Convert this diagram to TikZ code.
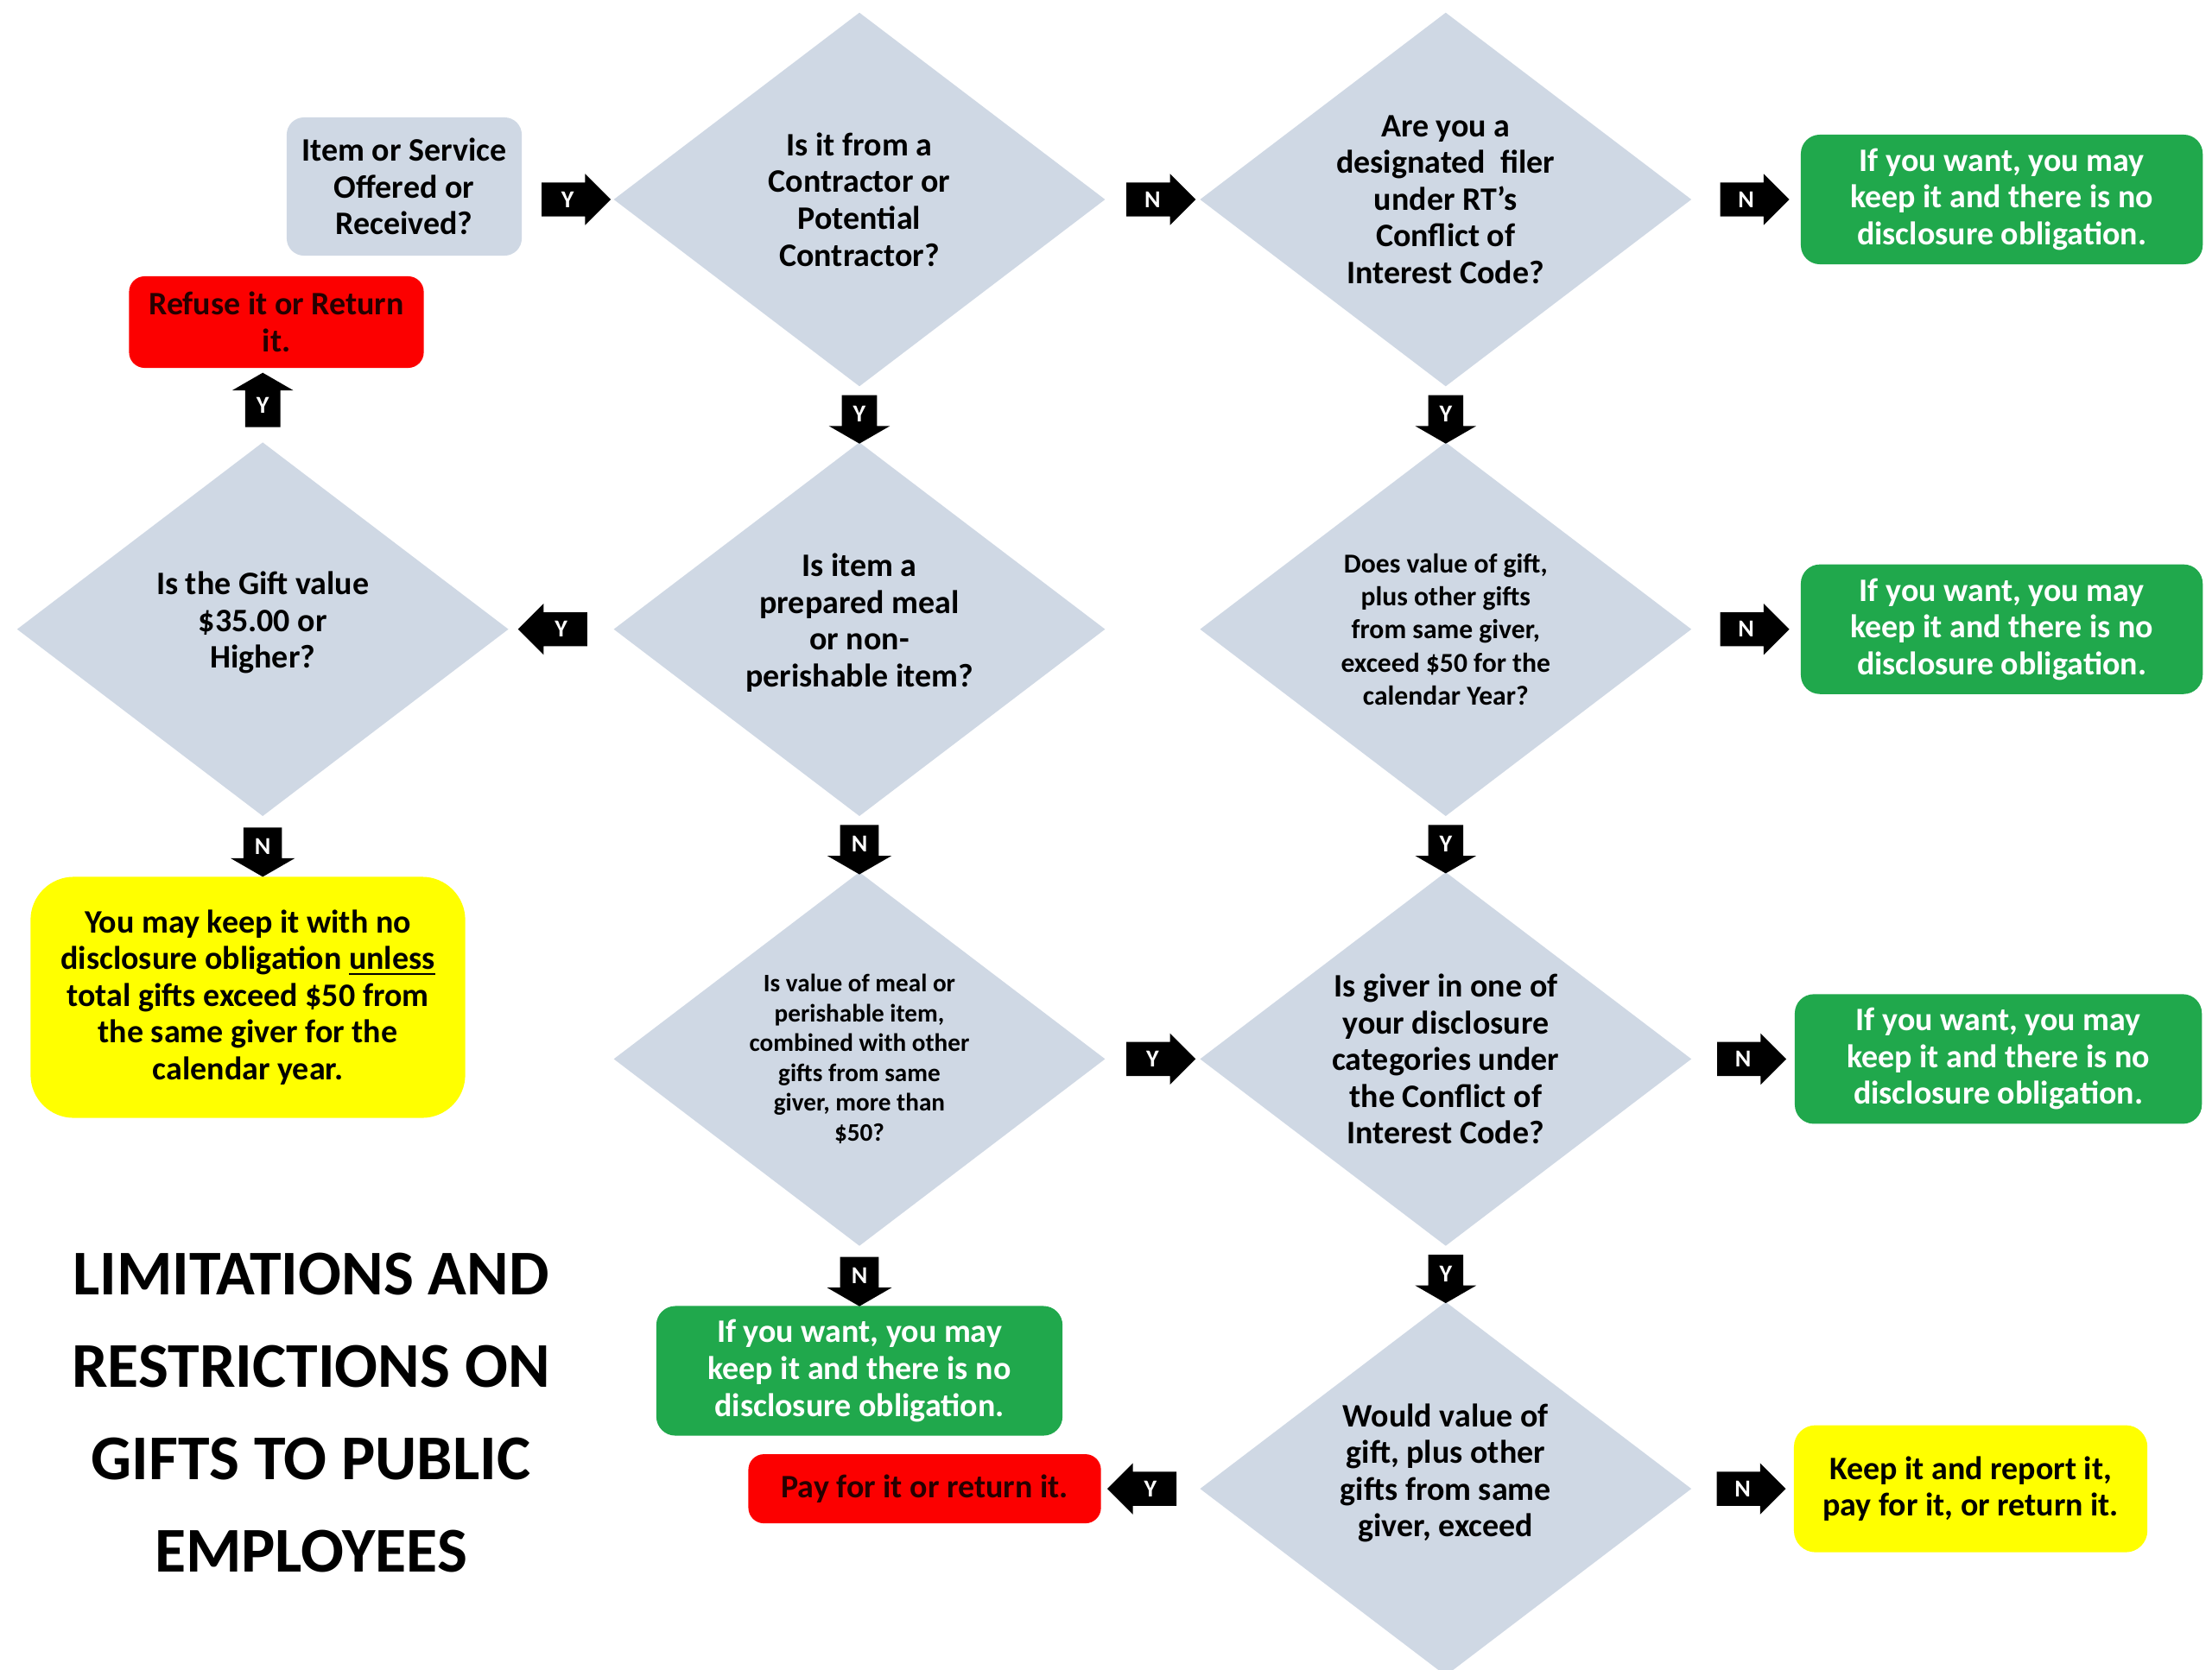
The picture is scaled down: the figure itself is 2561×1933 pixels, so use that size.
\documentclass[tikz,border=0pt]{standalone}
\usepackage{fontspec}
\setmainfont{Carlito}
\usetikzlibrary{shapes.geometric,shapes.arrows,positioning}
\definecolor{qgray}{RGB}{207,216,228}
\definecolor{keepgreen}{RGB}{32,168,76}
\definecolor{stopred}{RGB}{252,0,0}
\definecolor{warnyellow}{RGB}{255,255,0}
\newcommand*{\qfont}{\bfseries\fontsize{10.8}{12.1}\selectfont}
\newcommand*{\qsmall}{\bfseries\fontsize{9}{10.9}\selectfont}
\newcommand*{\qtiny}{\bfseries\fontsize{8.3}{9.8}\selectfont}
\newcommand*{\tfont}{\bfseries\fontsize{21}{30.4}\selectfont}
\newcommand*{\afont}{\bfseries\fontsize{8}{8}\selectfont}
\tikzstyle{every picture}+=[
  qnode/.style={fill=qgray,shape=diamond,aspect=1.31,minimum width=5.69cm,minimum height=4.33cm,inner sep=0pt,align=center,font=\qfont},
  inode/.style={fill=qgray,shape=rectangle,rounded corners=0.2cm,minimum width=2.72cm,minimum height=1.6cm,align=center,font=\qfont},
  gnode/.style={fill=keepgreen,text=white,shape=rectangle,rounded corners=0.22cm,minimum width=4.65cm,minimum height=1.5cm,align=center,font=\qfont},
  rnode/.style={fill=stopred,text=black!85!red,shape=rectangle,rounded corners=0.18cm,align=center,font=\qfont},
  ynode/.style={fill=warnyellow,shape=rectangle,align=center,font=\qfont},
  harrow/.style={single arrow,fill=black,text=white,font=\afont,inner sep=2.8pt,single arrow head extend=0.1cm,minimum height=0.8cm},
  varrow/.style={single arrow,shape border rotate=270,fill=black,text=white,font=\afont,inner sep=3.5pt,single arrow head extend=0.15cm,single arrow tip angle=120,minimum height=0.48cm}
]
\begin{document}
\begin{tikzpicture}[x=0.01cm,y=-0.01cm]
      \def\colsep{1.08cm}
      \def\rowsep{0.63cm}
      \useasboundingbox (0,0) rectangle (2561,1933);
      \node[style=qnode] (q1) at (995,231) {Is it from a\\Contractor or\\Potential\\Contractor?};
      \node[style=qnode,right = \colsep of q1] (q2) {Are you a\\designated~ filer\\under RT’s\\Conflict of\\Interest Code?};
      \node[style=qnode,below = \rowsep of q1] (q4) {Is item a\\prepared meal\\or non-\\perishable item?\\[-6pt]\mbox{}};
      \node[style=qnode,left = 1.2cm of q4] (q3) {Is the Gift value\\\$35.00 or\\Higher?\\[-6pt]\mbox{}};
      \node[style=qnode,below = \rowsep of q2,font=\qsmall] (q5) {Does value of gift,\\plus other gifts\\from same giver,\\exceed \$50 for the\\calendar Year?};
      \node[style=qnode,below = \rowsep of q4,font=\qtiny] (q6) {\mbox{}\\[-4pt]Is value of meal or\\perishable item,\\combined with other\\gifts from same\\giver, more than\\\$50?};
      \node[style=qnode,below = \rowsep of q5] (q7) {Is giver in one of\\your disclosure\\categories under\\the Conflict of\\Interest Code?};
      \node[style=qnode,below = \rowsep of q7] (q8) {Would value of\\gift, plus other\\gifts from same\\giver, exceed\\ \mbox{}};
      %
      \node[style=inode] (item) at (468,216) {Item or Service\\Offered or\\Received?};
      \node[style=rnode,minimum width=3.41cm,minimum height=1.06cm] (refuse) at (320,373) {Refuse it or Return\\it.};
      \node[style=gnode,right = 1.25cm of q2] (g1) {If you want, you may\\keep it and there is no\\disclosure obligation.};
      \node[style=gnode,right = 1.25cm of q5] (g2) {If you want, you may\\keep it and there is no\\disclosure obligation.};
      \node[style=gnode,right = 1.18cm of q7,minimum width=4.71cm] (g3) {If you want, you may\\keep it and there is no\\disclosure obligation.};
      \node[style=gnode,below = 0.68cm of q6,minimum width=4.7cm] (g4) {If you want, you may\\keep it and there is no\\disclosure obligation.};
      \node[style=ynode,rounded corners=0.5cm,minimum width=5.03cm,minimum height=2.79cm] (y1) at (287,1155) {You may keep it with no\\disclosure obligation \underline{unless}\\total gifts exceed \$50 from\\the same giver for the\\calendar year.};
      \node[style=rnode,left = 1.13cm of q8,minimum width=4.08cm,minimum height=0.8cm] (pay) {Pay for it or return it.};
      \node[style=ynode,right = 1.17cm of q8,rounded corners=0.25cm,minimum width=4.09cm,minimum height=1.47cm] (y2) {Keep it and report it,\\pay for it, or return it.};
      \node[align=center,font=\tfont] (title) at (360,1636) {LIMITATIONS AND\\RESTRICTIONS ON\\GIFTS TO PUBLIC\\EMPLOYEES};
      %
      \path (item.east |- q1.west) -- node[style=harrow] {Y} (q1.west);
      \path (q1) -- node[style=harrow] {N} (q2);
      \path (q2) -- node[style=harrow] {N} (g1);
      \path (q1) -- node[style=varrow] {Y} (q4);
      \path (q2) -- node[style=varrow] {Y} (q5);
      \path (q4) -- node[style=harrow,shape border rotate=180] {Y} (q3);
      \path (q3.north) -- node[style=varrow,shape border rotate=90,minimum height=0.63cm] {Y} (q3.north |- refuse.south);
      \path (q3.south) -- node[style=varrow] {N} (q3.south |- y1.north);
      \path (q5) -- node[style=harrow] {N} (g2);
      \path (q4) -- node[style=varrow] {N} (q6);
      \path (q5) -- node[style=varrow] {Y} (q7);
      \path (q6) -- node[style=harrow] {Y} (q7);
      \path (q7) -- node[style=harrow] {N} (g3);
      \path (q6) -- node[style=varrow] {N} (g4);
      \path (q7) -- node[style=varrow] {Y} (q8);
      \path (q8) -- node[style=harrow,shape border rotate=180] {Y} (pay);
      \path (q8) -- node[style=harrow] {N} (y2);
      %
\end{tikzpicture}
\end{document}
